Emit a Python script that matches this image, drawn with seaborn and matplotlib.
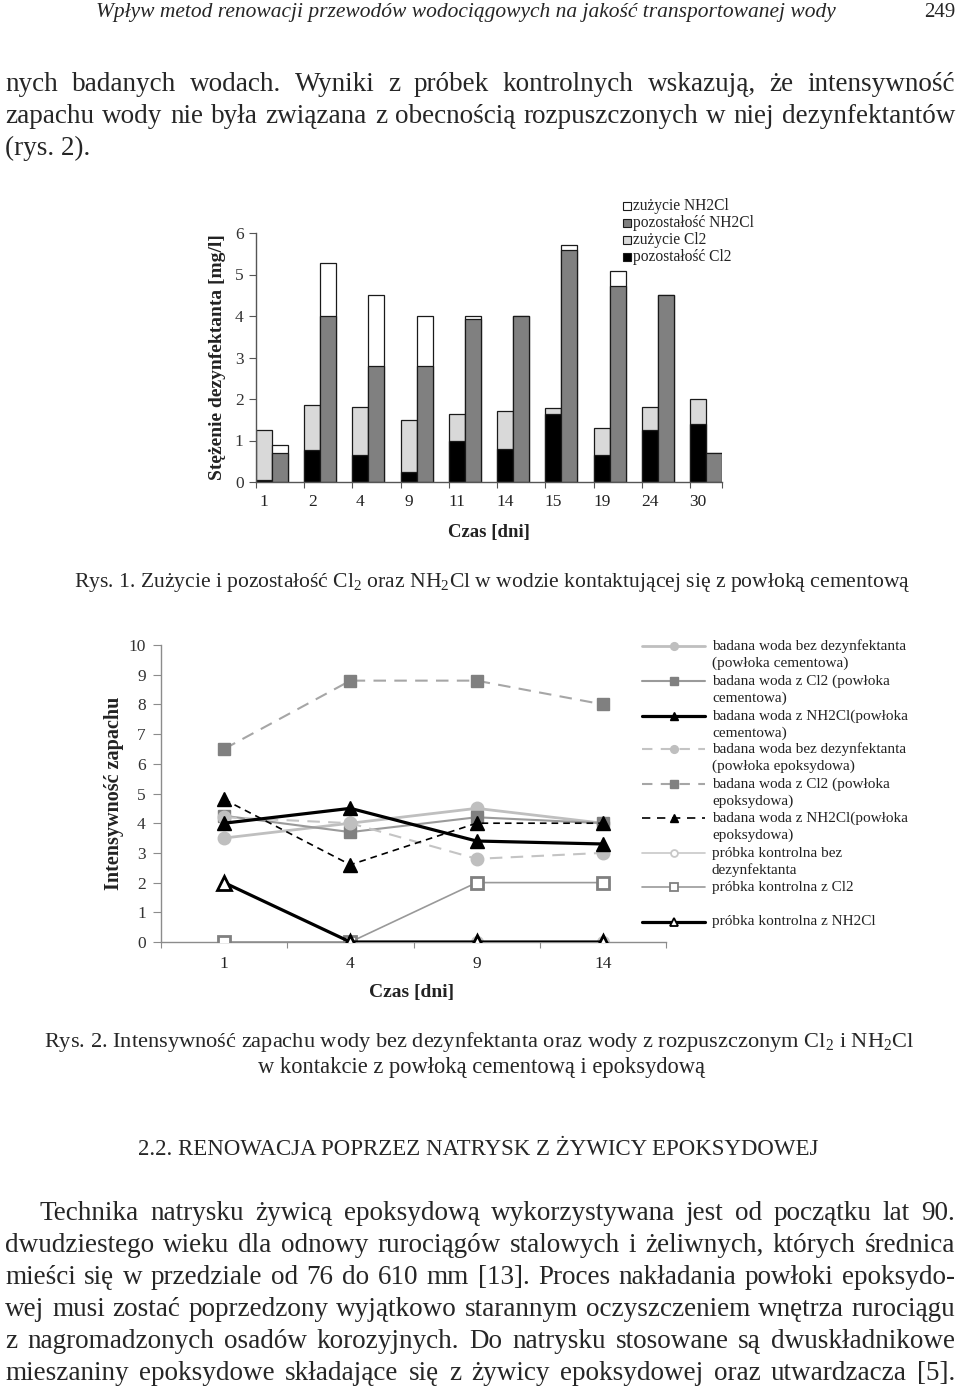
import numpy as np
import pandas as pd
import matplotlib
matplotlib.use("Agg")
import matplotlib.pyplot as plt
from matplotlib.patches import Rectangle
from matplotlib.lines import Line2D
import seaborn as sns

sns.set_theme(style="ticks")
plt.rcParams["font.family"] = ["Liberation Serif", "DejaVu Serif"]
plt.rcParams["mathtext.fontset"] = "custom"
plt.rcParams["mathtext.rm"] = "Liberation Serif"
plt.rcParams["mathtext.it"] = "Liberation Serif:italic"
plt.rcParams["mathtext.bf"] = "Liberation Serif:bold"

# ---------------- data: Rys. 1 ----------------
days1 = ["1", "2", "4", "9", "11", "14", "15", "19", "24", "30"]
cl2_residual = [0.05, 0.78, 0.65, 0.25, 1.00, 0.80, 1.65, 0.65, 1.25, 1.40]
cl2_consumed = [1.20, 1.07, 1.15, 1.25, 0.65, 0.90, 0.13, 0.65, 0.55, 0.60]
nh2cl_residual = [0.70, 4.00, 2.80, 2.80, 3.92, 4.00, 5.60, 4.72, 4.50, 0.70]
nh2cl_consumed = [0.20, 1.28, 1.70, 1.20, 0.08, 0.00, 0.10, 0.36, 0.00, 0.00]
legend1_labels = ["zużycie NH2Cl", "pozostałość NH2Cl", "zużycie Cl2", "pozostałość Cl2"]

# ---------------- data: Rys. 2 ----------------
days2 = ["1", "4", "9", "14"]
cem_none = [3.5, 4.0, 4.5, 4.0]
cem_cl2 = [4.25, 3.7, 4.2, 4.0]
cem_nh2cl = [4.0, 4.5, 3.4, 3.3]
epo_none = [4.2, 4.0, 2.8, 3.0]
epo_cl2 = [6.5, 8.8, 8.8, 8.0]
epo_nh2cl = [4.8, 2.6, 4.0, 4.0]
ctrl_none = [0, 0, 0, 0]
ctrl_cl2 = [0, 0, 2, 2]
ctrl_nh2cl = [2, 0, 0, 0]
legend2_labels = [
    ["badana woda bez dezynfektanta", "(powłoka cementowa)"],
    ["badana woda z Cl2 (powłoka", "cementowa)"],
    ["badana woda z NH2Cl(powłoka", "cementowa)"],
    ["badana woda bez dezynfektanta", "(powłoka epoksydowa)"],
    ["badana woda z Cl2 (powłoka", "epoksydowa)"],
    ["badana woda z NH2Cl(powłoka", "epoksydowa)"],
    ["próbka kontrolna bez", "dezynfektanta"],
    ["próbka kontrolna z Cl2"],
    ["próbka kontrolna z NH2Cl"],
]

# ---------------- text ----------------
header_text = "Wpływ metod renowacji przewodów wodociągowych na jakość transportowanej wody"
page_no = "249"
top_par = [
    "nych badanych wodach. Wyniki z próbek kontrolnych wskazują, że intensywność",
    "zapachu wody nie była związana z obecnością rozpuszczonych w niej dezynfektantów",
    "(rys. 2).",
]
cap1 = r"Rys. 1. Zużycie i pozostałość Cl$_\mathregular{2}$ oraz NH$_\mathregular{2}$Cl w wodzie kontaktującej się z powłoką cementową"
cap2a = r"Rys. 2. Intensywność zapachu wody bez dezynfektanta oraz wody z rozpuszczonym Cl$_\mathregular{2}$ i NH$_\mathregular{2}$Cl"
cap2b = "w kontakcie z powłoką cementową i epoksydową"
heading = "2.2. RENOWACJA POPRZEZ NATRYSK Z ŻYWICY EPOKSYDOWEJ"
bottom_par = [
    "Technika natrysku żywicą epoksydową wykorzystywana jest od początku lat 90.",
    "dwudziestego wieku dla odnowy rurociągów stalowych i żeliwnych, których średnica",
    "mieści się w przedziale od 76 do 610 mm [13]. Proces nakładania powłoki epoksydo-",
    "wej musi zostać poprzedzony wyjątkowo starannym oczyszczeniem wnętrza rurociągu",
    "z nagromadzonych osadów korozyjnych. Do natrysku stosowane są dwuskładnikowe",
    "mieszaniny epoksydowe składające się z żywicy epoksydowej oraz utwardzacza [5].",
]

W, H = 960, 1390
fig = plt.figure(figsize=(9.6, 13.9), dpi=100)
fig.patch.set_facecolor("white")
R = fig.canvas.get_renderer()


def fx(x):
    return x / W


def fy(y):
    return 1 - y / H


def fit_text(s, xc, yb, width, fs0=14, ha="center", **kw):
    t = fig.text(fx(xc), fy(yb), s, fontsize=fs0, ha=ha, va="baseline", **kw)
    w = t.get_window_extent(R).width
    t.set_fontsize(fs0 * width / w)
    return t


def justify(line, x0, x1, yb, fs, full=True):
    if not full:
        fig.text(fx(x0), fy(yb), line, fontsize=fs, ha="left", va="baseline")
        return
    words = line.split(" ")
    ts = [fig.text(0, fy(yb), w, fontsize=fs, ha="left", va="baseline") for w in words]
    widths = [t.get_window_extent(R).width for t in ts]
    min_gap = 0.2 * fs * 100 / 72
    gap = (x1 - x0 - sum(widths)) / (len(words) - 1)
    if gap < min_gap:
        scale = (x1 - x0 - min_gap * (len(words) - 1)) / sum(widths)
        for t in ts:
            t.set_fontsize(fs * scale)
        widths = [w * scale for w in widths]
        gap = (x1 - x0 - sum(widths)) / (len(words) - 1)
    x = x0
    for t, wd in zip(ts, widths):
        t.set_x(fx(x))
        x += wd + gap


# ---------------- header & text ----------------
fit_text(header_text, 466, 17, 743, fs0=14, style="italic")
fig.text(fx(955), fy(17), page_no, fontsize=15, ha="right", va="baseline")

BFS = 19.5
justify(top_par[0], 5, 955, 91, BFS)
justify(top_par[1], 5, 955, 123, BFS)
justify(top_par[2], 5, 955, 155, BFS, full=False)

fit_text(cap1, 492, 587, 835, fs0=13)
fit_text(cap2a, 479, 1047, 868, fs0=13)
fit_text(cap2b, 482, 1073, 445, fs0=13)
fit_text(heading, 478, 1155, 677, fs0=13)

justify(bottom_par[0], 40, 955, 1220, BFS)
for k, ln in enumerate(bottom_par[1:]):
    justify(ln, 5, 955, 1252 + 32 * k, BFS)

# ---------------- Rys. 1 : stacked bars ----------------
df1 = pd.DataFrame({
    "day": days1 * 2,
    "agent": ["Cl2"] * len(days1) + ["NH2Cl"] * len(days1),
    "residual": cl2_residual + nh2cl_residual,
    "consumed": cl2_consumed + nh2cl_consumed,
})
df1["total"] = df1["residual"] + df1["consumed"]

ax1 = fig.add_axes([fx(256), fy(482), (722 - 256) / W, (482 - 233) / H])
bw = 0.66
common = dict(data=df1, x="day", hue="agent", order=days1, hue_order=["Cl2", "NH2Cl"],
              width=bw, gap=0, edgecolor="#1a1a1a", linewidth=0.9, legend=False,
              errorbar=None, saturation=1, ax=ax1)
sns.barplot(y="total", palette={"Cl2": "#d9d9d9", "NH2Cl": "#ffffff"}, **common)
sns.barplot(y="residual", palette={"Cl2": "#000000", "NH2Cl": "#808080"}, **common)

n1 = len(days1)
half = bw / 2
ax1.set_xlim(-half, n1 - 1 + half)
ax1.set_ylim(0, 6)
ax1.set_yticks(range(0, 7))
ax1.set_xticks(np.arange(n1) - bw / 4)
ax1.set_xticklabels(days1)
ax1.set_xticks(list(np.arange(n1) - half) + [n1 - 1 + half], minor=True)
ax1.tick_params(axis="x", which="major", length=0, pad=9, labelsize=12.5, labelcolor="#222222")
ax1.tick_params(axis="x", which="minor", length=4, width=0.8, color="#555555", direction="out")
ax1.tick_params(axis="y", length=5, width=0.8, color="#555555", labelsize=12.5, labelcolor="#333333", pad=4)
for s in ["top", "right"]:
    ax1.spines[s].set_visible(False)
for s in ["left", "bottom"]:
    ax1.spines[s].set_color("#555555")
    ax1.spines[s].set_linewidth(1.0)
ax1.set_ylabel("Stężenie dezynfektanta [mg/l]", fontsize=14, fontweight="bold", color="#222222")
ax1.yaxis.set_label_coords((217 - 256) / 466, 0.5)
ax1.yaxis.label.set_va("center")
ax1.set_xlabel("Czas [dni]", fontsize=13.5, fontweight="bold", color="#222222")
ax1.xaxis.set_label_coords(0.5, -(532 - 482) / 249)
ax1.xaxis.label.set_va("center")
ax1.set_facecolor("white")

# legend Rys. 1
leg1_colors = ["#ffffff", "#808080", "#d9d9d9", "#000000"]
leg1_y = [206, 223, 240, 257]
for lab, c, yy in zip(legend1_labels, leg1_colors, leg1_y):
    fig.add_artist(Rectangle((fx(623), fy(yy + 4)), 8 / W, 8 / H, transform=fig.transFigure,
                             facecolor=c, edgecolor="#1a1a1a", linewidth=0.8))
    fig.text(fx(633), fy(yy), lab, fontsize=11.2, ha="left", va="center", color="#222222")

# ---------------- Rys. 2 : lines ----------------
ax2 = fig.add_axes([fx(161), fy(942), (666 - 161) / W, (942 - 645) / H])
series2 = [cem_none, cem_cl2, cem_nh2cl, epo_none, epo_cl2, epo_nh2cl, ctrl_none, ctrl_cl2, ctrl_nh2cl]
dash = (0, (6, 4))
styles2 = [
    dict(color="#bfbfbf", linestyle="-", linewidth=2.0, marker="o", markersize=9, markerfacecolor="#bfbfbf", markeredgecolor="#bfbfbf", markeredgewidth=1),
    dict(color="#9a9a9a", linestyle="-", linewidth=1.5, marker="s", markersize=8.5, markerfacecolor="#808080", markeredgecolor="#808080", markeredgewidth=1),
    dict(color="#000000", linestyle="-", linewidth=2.3, marker="^", markersize=9.5, markerfacecolor="#000000", markeredgecolor="#000000", markeredgewidth=1),
    dict(color="#c4c4c4", linestyle=dash, linewidth=1.5, marker="o", markersize=9, markerfacecolor="#bfbfbf", markeredgecolor="#bfbfbf", markeredgewidth=1),
    dict(color="#a6a6a6", linestyle=dash, linewidth=1.5, marker="s", markersize=8.5, markerfacecolor="#808080", markeredgecolor="#808080", markeredgewidth=1),
    dict(color="#000000", linestyle=(0, (4, 3)), linewidth=1.2, marker="^", markersize=9.5, markerfacecolor="#000000", markeredgecolor="#000000", markeredgewidth=1),
    dict(color="#c8c8c8", linestyle="-", linewidth=1.2, marker="o", markersize=8, markerfacecolor="white", markeredgecolor="#c8c8c8", markeredgewidth=1.5),
    dict(color="#999999", linestyle="-", linewidth=1.2, marker="s", markersize=9, markerfacecolor="white", markeredgecolor="#808080", markeredgewidth=2),
    dict(color="#000000", linestyle="-", linewidth=2.3, marker="^", markersize=10, markerfacecolor="white", markeredgecolor="#000000", markeredgewidth=2),
]
zord = [3, 3, 4, 3, 3, 4, 2, 3, 5]
for vals, st, z, lab in zip(series2, styles2, zord, legend2_labels):
    sns.lineplot(x=days2, y=vals, ax=ax2, sort=False, errorbar=None, zorder=z,
                 label=" ".join(lab), legend=False, **st)

ax2.set_xlim(-0.5, len(days2) - 0.5)
ax2.set_ylim(0, 10)
ax2.set_yticks(range(0, 11))
ax2.set_xticks(range(len(days2)))
ax2.set_xticklabels(days2)
ax2.set_xticks(np.arange(len(days2) + 1) - 0.5, minor=True)
ax2.tick_params(axis="x", which="major", length=0, pad=10, labelsize=12.5, labelcolor="#222222")
ax2.tick_params(axis="x", which="minor", length=4, width=0.8, color="#8c8c8c", direction="out")
ax2.tick_params(axis="y", length=6, width=0.8, color="#8c8c8c", labelsize=12.5, labelcolor="#333333", pad=5)
for s in ["top", "right"]:
    ax2.spines[s].set_visible(False)
for s in ["left", "bottom"]:
    ax2.spines[s].set_color("#8c8c8c")
    ax2.spines[s].set_linewidth(1.0)
ax2.set_ylabel("Intensywność zapachu", fontsize=14.5, fontweight="bold", color="#222222")
ax2.yaxis.set_label_coords((114 - 161) / 505, 0.5)
ax2.yaxis.label.set_va("center")
ax2.set_xlabel("Czas [dni]", fontsize=14, fontweight="bold", color="#222222")
ax2.xaxis.set_label_coords((412 - 161) / 505, -(992 - 942) / 297)
ax2.xaxis.label.set_va("center")
ax2.set_facecolor("white")

# legend Rys. 2 (drawn in page coordinates)
leg2_y = [646, 681, 716, 749, 784, 818, 853, 887, 922]
for lab, st, yy in zip(legend2_labels, styles2, leg2_y):
    s2 = dict(st)
    s2["markersize"] = st["markersize"] * 0.62
    s2["markeredgewidth"] = min(st["markeredgewidth"], 1.3)
    if isinstance(st["linestyle"], tuple):
        s2["linestyle"] = (0, (5, 4))
    fig.add_artist(Line2D([fx(642), fx(673.5), fx(705)], [fy(yy)] * 3, transform=fig.transFigure,
                          markevery=[1], **s2))
    for j, part in enumerate(lab):
        fig.text(fx(712), fy(yy + 17 * j), part, fontsize=11, ha="left", va="center", color="#222222")

fig.savefig("out.png", dpi=100, facecolor="white")
